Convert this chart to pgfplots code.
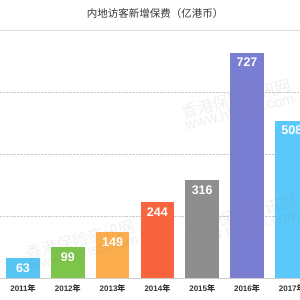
\documentclass[border=0pt]{standalone}
\usepackage{pgfplots}
\pgfplotsset{compat=1.18}
\usepackage{fontspec}
\setmainfont{Liberation Sans}
\newfontfamily\cjk{Noto Sans CJK SC}

\definecolor{cA}{HTML}{56C4F5}
\definecolor{cB}{HTML}{7CC44A}
\definecolor{cC}{HTML}{FDAE4C}
\definecolor{cD}{HTML}{F9643F}
\definecolor{cE}{HTML}{8F8E8E}
\definecolor{cF}{HTML}{7A7ED3}
\definecolor{cG}{HTML}{5AC8FA}
\definecolor{titlegray}{HTML}{333333}
\definecolor{rulegray}{HTML}{DDDDDD}
\definecolor{gridgray}{HTML}{CCCCCC}
\definecolor{labelgray}{HTML}{333333}

\begin{document}
\begin{tikzpicture}[x=1pt,y=1pt]
\useasboundingbox (0,0) rectangle (300,300);
\clip (0,0) rectangle (300,300);
% title and the rule beneath it
\node[font=\cjk\fontsize{10.5}{12}\selectfont, text=titlegray] at (155,286) {内地访客新增保费（亿港币）};
\draw[line width=0.8pt, rulegray] (0,270) -- (300,270);
\begin{axis}[
  at={(0pt,22pt)}, anchor=south west,
  x=44.8pt, y=0.31pt,
  xmin=-0.5134, xmax=6.183, ymin=0, ymax=760,
  /pgf/number format/assume math mode=true,
  axis line style={draw=none}, tick style={draw=none},
  xtick={0,...,6},
  xticklabels={2011{\cjk 年},2012{\cjk 年},2013{\cjk 年},2014{\cjk 年},2015{\cjk 年},2016{\cjk 年},2017{\cjk 年}},
  xticklabel style={font=\bfseries\fontsize{8}{9}\selectfont, text=labelgray, yshift=1.5pt},
  ytick={200,400,600}, yticklabels={},
  ymajorgrids, grid style={densely dotted, gridgray, line width=0.6pt},
  extra y ticks={0}, extra y tick labels={},
  extra y tick style={grid style={solid, gridgray, line width=0.8pt}},
  ybar, bar width=33.5pt,
  every axis plot/.append style={bar shift=0pt, draw=none},
  nodes near coords,
  every node near coord/.append style={anchor=north, yshift=-2pt, text=white,
    font=\bfseries\fontsize{12.5}{14}\selectfont},
]
\addplot[fill=cA] coordinates {(0,63)};
\addplot[fill=cB] coordinates {(1,99)};
\addplot[fill=cC] coordinates {(2,149)};
\addplot[fill=cD] coordinates {(3,244)};
\addplot[fill=cE] coordinates {(4,316)};
\addplot[fill=cF] coordinates {(5,727)};
\addplot[fill=cG] coordinates {(6,508)};
\end{axis}
% faint watermark
\foreach \px/\py in {82/55, 243/80, 238/196}{
  \node[rotate=14, opacity=0.12, text=gray, align=center, inner sep=0pt] at (\px,\py)
    {{\cjk\fontsize{16}{18}\selectfont 香港保险资讯网}\\[-1pt]{\fontsize{15}{17}\selectfont www.hkinsu.com}};
}
\end{tikzpicture}
\end{document}
